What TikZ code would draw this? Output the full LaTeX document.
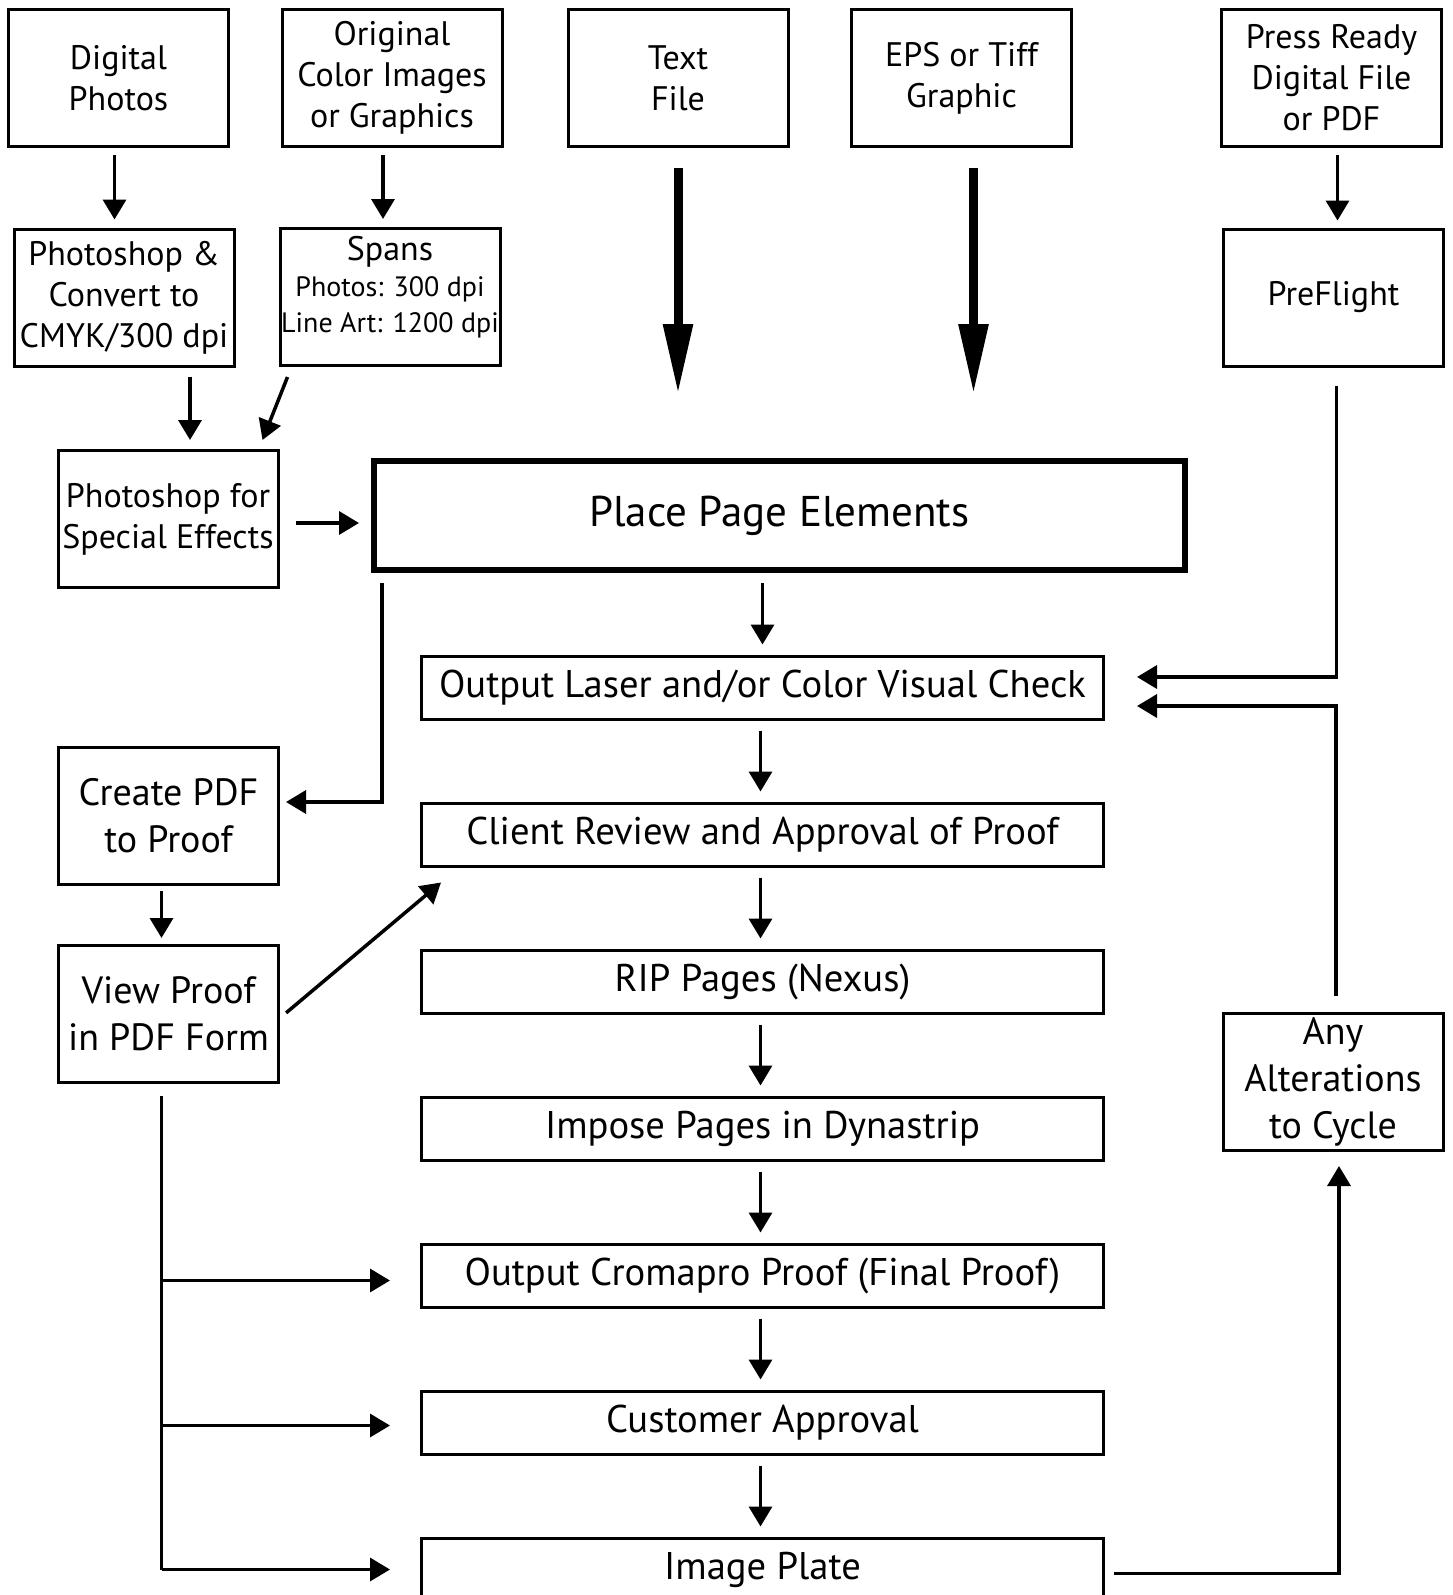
\documentclass[tikz,border=0pt]{standalone}
\usepackage{fontspec}
\setmainfont{PT Sans}
\usetikzlibrary{arrows.meta, positioning}

\newcommand{\dpifont}{\fontsize{14}{18}\selectfont}

\tikzstyle{srcbox} = [rectangle, draw=black, line width=1.5pt, minimum width=110pt, minimum height=68.5pt, inner sep=0pt, align=center, font=\fontsize{17}{20.5}\selectfont]
\tikzstyle{proofbox} = [srcbox, font=\fontsize{19}{23.5}\selectfont]
\tikzstyle{stepbox} = [rectangle, draw=black, line width=1.5pt, minimum width=341pt, minimum height=31.5pt, inner sep=0pt, align=center, font=\fontsize{19.3}{22}\selectfont]
\tikzstyle{placebox} = [rectangle, draw=black, line width=3pt, minimum width=405.5pt, minimum height=54.5pt, inner sep=0pt, align=center, font=\fontsize{21.5}{25}\selectfont]
\tikzstyle{arrow} = [line width=1.75pt, -{Triangle[width=11.5pt,length=10pt]}]
\tikzstyle{bigarrow} = [line width=4.5pt, -{Triangle[width=14pt,length=35pt]}]
\tikzstyle{link} = [line width=1.75pt]

\begin{document}
\begin{tikzpicture}[x=0.5pt, y=-0.5pt, node distance=73.5pt]
\useasboundingbox (0,0) rectangle (1452,1595);

% sources
\node [srcbox] (digital) at (118.5,78) {Digital\\Photos};
\node [srcbox] (original) at (392,78) {Original\\Color Images\\or Graphics};
\node [srcbox] (textfile) at (678,78) {Text\\File};
\node [srcbox] (eps) at (961.5,78) {EPS or Tiff\\Graphic};
\node [srcbox] (press) at (1331.5,78) {Press Ready\\Digital File\\or PDF};

\node [srcbox] (convert) at (124,297.5) {Photoshop \&\\Convert to\\CMYK/300 dpi};
\node [srcbox, font=\fontsize{17}{18}\selectfont, text depth=13pt] (spans) at (390,297) {Spans\\\dpifont Photos: 300 dpi\\\dpifont Line Art: 1200 dpi};
\node [srcbox] (preflight) at (1333.5,297.5) {PreFlight};

\node [srcbox] (special) at (168,519) {Photoshop for\\Special Effects};
\node [placebox] (place) at (779.5,515.5) {Place Page Elements};

% main column
\node [stepbox] (laser) at (762.5,687.5) {Output Laser and/or Color Visual Check};
\node [stepbox, below of=laser] (client) {Client Review and Approval of Proof};
\node [stepbox, below of=client] (rip) {RIP Pages (Nexus)};
\node [stepbox, below of=rip] (impose) {Impose Pages in Dynastrip};
\node [stepbox, below of=impose] (cromapro) {Output Cromapro Proof (Final Proof)};
\node [stepbox, below of=cromapro] (customer) {Customer Approval};
\node [stepbox, below of=customer] (plate) {Image Plate};

\node [proofbox] (create) at (168.5,816) {Create PDF\\to Proof};
\node [proofbox] (view) at (168.5,1014) {View Proof\\in PDF Form};
\node [proofbox] (alter) at (1333,1082) {Any\\Alterations\\to Cycle};

% connectors
\draw [arrow, shorten <=3.5pt, shorten >=4pt] ([xshift=-2pt]digital.south) -- ([xshift=-2pt]digital.south |- convert.north);
\draw [arrow, shorten <=3.5pt, shorten >=4pt] ([xshift=-4.5pt]original.south) -- ([xshift=-4.5pt]original.south |- spans.north);
\draw [arrow, shorten <=4.5pt, shorten >=4.5pt] ([xshift=33pt]convert.south) -- ([xshift=33pt]convert.south |- special.north);
\draw [arrow] ([shift={(4.5pt,-5pt)}]spans.south west) -- ([shift={(-8.5pt,4.5pt)}]special.north east);
\draw [arrow, shorten <=8pt, shorten >=6pt] ([yshift=-2pt]special.east) -- ([yshift=-2pt]special.east -| place.west);
\draw [bigarrow, shorten <=10pt, shorten >=32pt] (textfile.south) -- (textfile.south |- place.north);
\draw [bigarrow, shorten <=10pt, shorten >=32pt] ([xshift=6pt]eps.south) -- ([xshift=6pt]eps.south |- place.north);
\draw [arrow, shorten <=3.5pt, shorten >=3.5pt] ([xshift=3pt]press.south) -- ([xshift=3pt]press.south |- preflight.north);

\draw [arrow, shorten <=5pt, shorten >=5pt] (place.south -| laser.north) -- (laser.north);
\foreach \from/\to in {laser/client, client/rip, rip/impose, impose/cromapro, cromapro/customer, customer/plate}
  \draw [arrow, shorten <=5pt, shorten >=5pt] ([xshift=-1pt]\from.south) -- ([xshift=-1pt]\to.north);

\draw [arrow, shorten <=5pt, shorten >=3pt] ([xshift=5.5pt]place.south west) |- ([yshift=7pt]create.east);
\draw [arrow, shorten <=2.5pt, shorten >=3pt] ([xshift=-3.5pt]create.south) -- ([xshift=-3.5pt]view.north);
\draw [arrow, shorten <=4pt] ([yshift=-2pt]view.east) -- ([shift={(10.5pt,-7.5pt)}]client.south west);

\draw [link, shorten <=6pt] ([xshift=-3.5pt]view.south) -- ([xshift=-3.5pt]view.south |- plate.west);
\draw [arrow, shorten >=15pt] ([xshift=-3.5pt]view.south |- cromapro.west) ++(0,5) coordinate (b1) -- (b1 -| cromapro.west);
\draw [arrow, shorten >=15pt] ([xshift=-3.5pt]view.south |- customer.west) ++(0,3) coordinate (b2) -- (b2 -| customer.west);
\draw [arrow, shorten >=15pt] ([xshift=-3.5pt]view.south |- plate.west) -- (plate.west);

\draw [arrow, shorten <=9pt, shorten >=16pt] ([xshift=1.5pt]preflight.south) |- ([yshift=5.25pt]laser.east);
\draw [arrow, shorten <=8pt, shorten >=16pt] ([xshift=1.5pt]alter.north) |- ([yshift=-9.25pt]laser.east);
\draw [arrow, shorten <=4.5pt, shorten >=7pt] ([yshift=-2pt]plate.east) -| ([xshift=3pt]alter.south);

\end{tikzpicture}
\end{document}
